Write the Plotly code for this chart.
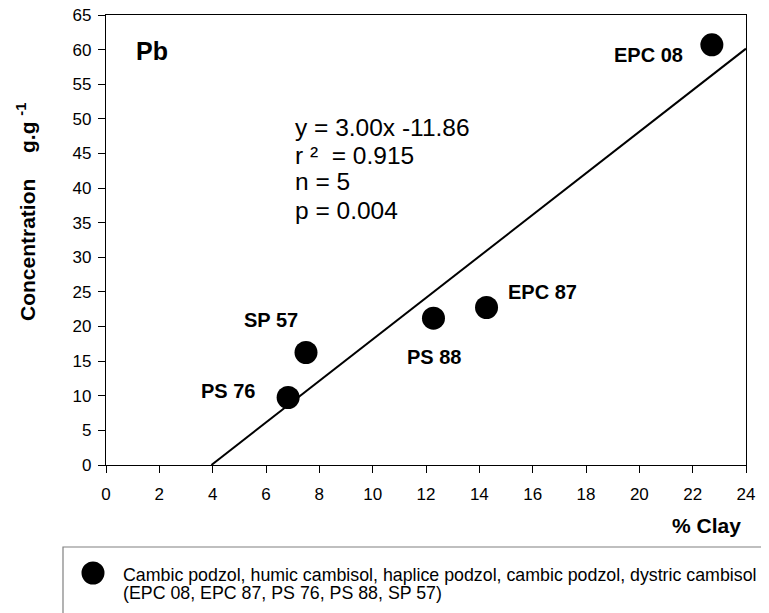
import plotly.graph_objects as go

# Data
sites = ["EPC 08", "EPC 87", "PS 88", "SP 57", "PS 76"]
clay = [22.72, 14.27, 12.28, 7.5, 6.83]
conc = [60.7, 22.75, 21.2, 16.25, 9.75]

slope = 3.00
intercept = -11.86
x_ticks = list(range(0, 25, 2))
y_ticks = list(range(0, 66, 5))

FONT = "Liberation Sans, Arial, sans-serif"

# plot area in reference pixels: x 106..746, y 15..465
def px(xp):
    return (xp - 106) / 640.0

def py(yp):
    return (465 - yp) / 450.0

fig = go.Figure()

x0 = -intercept / slope
x1 = 24
fig.add_trace(go.Scatter(x=[x0, x1], y=[slope * x0 + intercept, slope * x1 + intercept],
                         mode="lines", line=dict(color="black", width=2),
                         showlegend=False, hoverinfo="skip"))

fig.add_trace(go.Scatter(x=clay, y=conc, mode="markers",
                         marker=dict(color="black", size=23, line=dict(width=0)),
                         showlegend=False))

# label offsets in pixels (xshift, yshift)
label_offsets = {
    "EPC 08": (-63, -10),
    "EPC 87": (56, 16),
    "PS 88": (1, -39),
    "SP 57": (-35, 33),
    "PS 76": (-60, 7),
}
for s, xv, yv in zip(sites, clay, conc):
    dx, dy = label_offsets[s]
    fig.add_annotation(x=xv, y=yv, text="<b>%s</b>" % s, showarrow=False,
                       xshift=dx, yshift=dy,
                       font=dict(family=FONT, size=20, color="black"))

fig.add_annotation(xref="paper", yref="paper", x=px(134), y=py(51),
                   xanchor="left", yanchor="middle", text="<b>Pb</b>", showarrow=False,
                   font=dict(family=FONT, size=25, color="black"))

eq_lines = ["y = 3.00x -11.86", "r \u00b2  = 0.915", "n = 5", "p = 0.004"]
eq_y = [127, 155, 182, 210]
for t, yy in zip(eq_lines, eq_y):
    fig.add_annotation(xref="paper", yref="paper", x=px(293), y=py(yy),
                       xanchor="left", yanchor="middle", text=t, showarrow=False,
                       font=dict(family=FONT, size=24.5, color="black"))

fig.add_annotation(xref="paper", yref="paper", x=px(743), y=py(525),
                   xanchor="right", yanchor="middle", text="<b>% Clay</b>", showarrow=False,
                   font=dict(family=FONT, size=21, color="black"))

fig.add_annotation(xref="paper", yref="paper", x=px(28), y=py(250),
                   xanchor="center", yanchor="middle", textangle=-90,
                   text="<b>Concentration</b>", showarrow=False,
                   font=dict(family=FONT, size=21, color="black"))
fig.add_annotation(xref="paper", yref="paper", x=px(26), y=py(128),
                   xanchor="center", yanchor="middle", textangle=-90,
                   text="<b>g.g <sup>-1</sup></b>", showarrow=False,
                   font=dict(family=FONT, size=21, color="black"))

# legend box
fig.add_shape(type="rect", xref="paper", yref="paper",
              x0=px(63), x1=px(800), y0=py(547), y1=py(650),
              line=dict(color="#808080", width=1.2), fillcolor="rgba(0,0,0,0)")
fig.add_shape(type="circle", xref="paper", yref="paper",
              xsizemode="pixel", ysizemode="pixel",
              xanchor=px(93), yanchor=py(573),
              x0=-11.5, x1=11.5, y0=-11.5, y1=11.5,
              fillcolor="black", line=dict(color="black", width=0))
legend_lines = ["Cambic podzol, humic cambisol, haplice podzol, cambic podzol, dystric cambisol",
                "(EPC 08, EPC 87, PS 76, PS 88, SP 57)"]
for t, yy in zip(legend_lines, [575, 593]):
    fig.add_annotation(xref="paper", yref="paper", x=px(121), y=py(yy),
                       xanchor="left", yanchor="middle", align="left",
                       text=t, showarrow=False,
                       font=dict(family=FONT, size=17.8, color="black"))

axis_common = dict(showgrid=False, zeroline=False, showline=True, linecolor="black",
                   linewidth=1.3, mirror=True, ticks="outside", ticklen=7,
                   tickcolor="black", tickwidth=1.3, automargin=False,
                   ticklabeloverflow="allow",
                   tickfont=dict(family=FONT, size=17, color="black"))

fig.update_xaxes(range=[0, 24], tickvals=x_ticks, ticklabelstandoff=6, **axis_common)
fig.update_yaxes(range=[0, 65], tickvals=y_ticks, ticklabelstandoff=3, **axis_common)

fig.update_layout(width=769, height=613,
                  margin=dict(l=98, r=31, t=7, b=156),
                  plot_bgcolor="white", paper_bgcolor="white",
                  font=dict(family=FONT))

fig.write_html("out.html")
